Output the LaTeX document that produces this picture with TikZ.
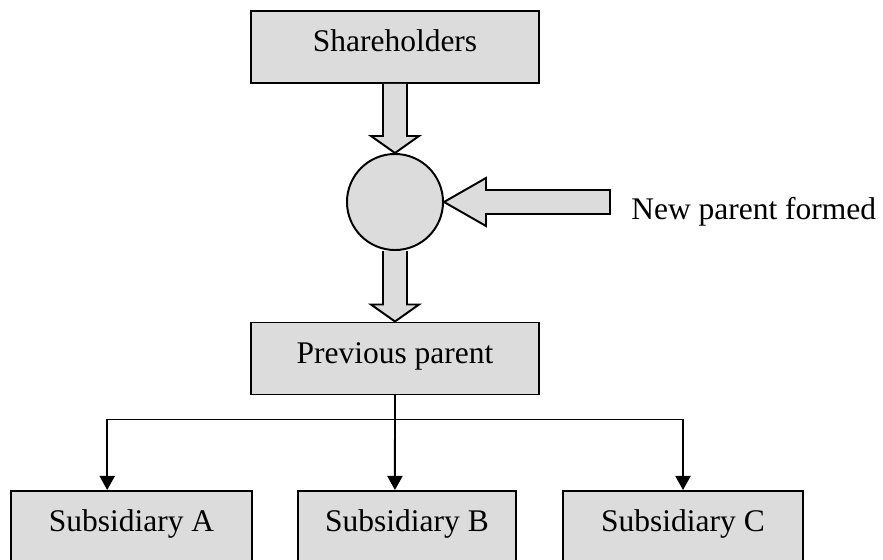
\documentclass[tikz,border=0pt]{standalone}
\usepackage{fontspec}
\setmainfont{Liberation Serif}
\usepackage{tikz}
\usetikzlibrary{calc,arrows.meta,positioning}
\definecolor{cBox}{RGB}{220,220,220}
\tikzset{
  unit box/.style={draw,fill=cBox,line width=1.4pt,minimum width=7.2cm,minimum height=1.8cm,
    text height=13.4pt,text depth=6.3pt,inner sep=0pt},
  fat/.style={draw,fill=cBox,line width=1.4pt,line join=miter},
  link/.style={line width=1.4pt,-{Triangle[length=10pt,width=10.7pt]}},
}

\begin{document}
\begin{tikzpicture}[x=0.025cm,y=-0.025cm,font=\fontsize{22.4}{27}\selectfont]
  \useasboundingbox (0,0) rectangle (883,560);
  \clip (0,0) rectangle (883,560);
  % holding structure
  \node[unit box] (share) at (395,47) {Shareholders};
  \node[draw,circle,fill=cBox,line width=1.4pt,minimum size=2.4cm,inner sep=0pt] (hub) at (395,202) {};
  \node[unit box] (prev) at (395,358.5) {Previous parent};
  \node[unit box,minimum width=6.025cm] (subA) at (131.5,527) {Subsidiary A};
  \node[unit box,minimum width=5.435cm] (subB) at (407,527) {Subsidiary B};
  \node[unit box,minimum width=6cm] (subC) at (683,527) {Subsidiary C};
  \node[anchor=base west,inner sep=0pt] (newp) at (631,219) {New parent formed};
  \coordinate (feed) at (610,202);
  % block arrows
  \foreach \a/\b in {share/hub,hub/prev} {
    \filldraw[fat] ($(\a.south)+(-12,0)$) -- ($(\b.north)+(-12,-17)$) -- ($(\b.north)+(-24,-17)$)
      -- (\b.north) -- ($(\b.north)+(24,-17)$) -- ($(\b.north)+(12,-17)$) -- ($(\a.south)+(12,0)$);
  }
  \filldraw[fat] (hub.east) -- ($(hub.east)+(42,-24)$) -- ($(hub.east)+(42,-12)$) -- ($(feed)+(0,-12)$)
    -- ($(feed)+(0,12)$) -- ($(hub.east)+(42,12)$) -- ($(hub.east)+(42,24)$) -- cycle;
  % subsidiaries
  \coordinate (split) at ($(prev.south)+(0,24)$);
  \coordinate (inA) at ($(subA.north west)!0.4!(subA.north east)$);
  \coordinate (inB) at ($(subB.north west)!0.445!(subB.north east)$);
  \draw[line width=1.4pt] (prev.south) -- (split);
  \draw[link] (split) -| (inA);
  \draw[link] (split) -- (inB);
  \draw[link] (split) -| (subC.north);
\end{tikzpicture}
\end{document}
